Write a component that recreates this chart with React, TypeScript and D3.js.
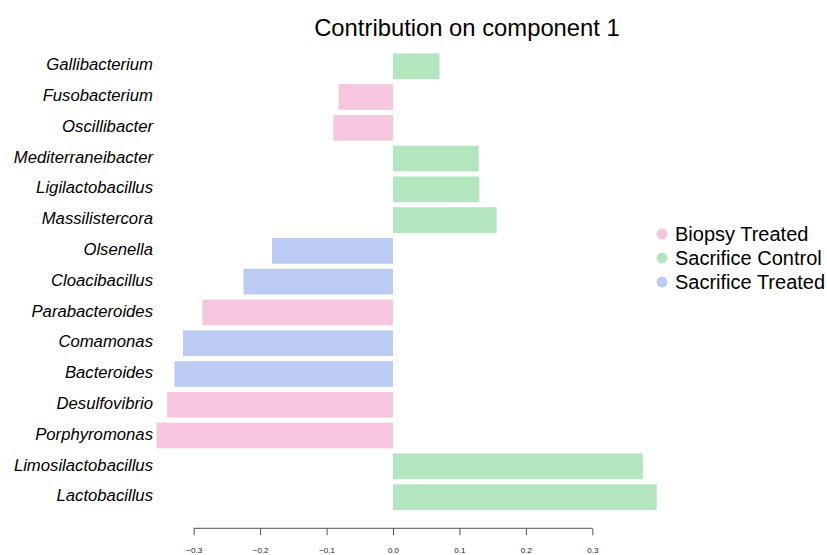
import React, { useRef, useEffect } from 'react';
import * as d3 from 'd3';

const genera = [
  'Gallibacterium', 'Fusobacterium', 'Oscillibacter', 'Mediterraneibacter',
  'Ligilactobacillus', 'Massilistercora', 'Olsenella', 'Cloacibacillus',
  'Parabacteroides', 'Comamonas', 'Bacteroides', 'Desulfovibrio',
  'Porphyromonas', 'Limosilactobacillus', 'Lactobacillus',
];
const contributions = [
  0.070, -0.082, -0.090, 0.129, 0.130, 0.156, -0.182, -0.225,
  -0.287, -0.316, -0.329, -0.340, -0.356, 0.376, 0.397,
];
const groups = [
  'Sacrifice Control', 'Biopsy Treated', 'Biopsy Treated', 'Sacrifice Control',
  'Sacrifice Control', 'Sacrifice Control', 'Sacrifice Treated', 'Sacrifice Treated',
  'Biopsy Treated', 'Sacrifice Treated', 'Sacrifice Treated', 'Biopsy Treated',
  'Biopsy Treated', 'Sacrifice Control', 'Sacrifice Control',
];
const legendGroups = ['Biopsy Treated', 'Sacrifice Control', 'Sacrifice Treated'];
const groupColors = ['#F6C6DF', '#B3E5BF', '#BBCBF4'];
const xTicks = [-0.3, -0.2, -0.1, 0.0, 0.1, 0.2, 0.3];

const W = 827;
const H = 555;

const App: React.FC = () => {
  const svgRef = useRef<SVGSVGElement>(null);

  useEffect(() => {
    if (!svgRef.current) return;
    const svg = d3.select(svgRef.current);
    svg.selectAll('*').remove();

    const font = 'Liberation Sans, Arial, sans-serif';
    const x = d3.scaleLinear().domain([-0.3, 0.3]).range([193.7, 592.3]);
    const y = d3.scaleBand<string>()
      .domain(genera)
      .range([50.8, 512.5])
      .paddingInner(0.166)
      .paddingOuter(0.083);
    const color = d3.scaleOrdinal<string, string>().domain(legendGroups).range(groupColors);

    // title
    svg.append('text')
      .attr('x', 467)
      .attr('y', 36)
      .attr('text-anchor', 'middle')
      .style('font-family', font)
      .style('font-size', '23.8px')
      .text('Contribution on component 1');

    // bars
    const rows = genera.map((g, i) => ({ name: g, value: contributions[i], group: groups[i] }));
    svg.append('g').selectAll('rect')
      .data(rows)
      .enter().append('rect')
      .attr('x', d => x(Math.min(0, d.value)))
      .attr('y', d => y(d.name) as number)
      .attr('width', d => Math.abs(x(d.value) - x(0)))
      .attr('height', y.bandwidth())
      .attr('fill', d => color(d.group));

    // labels
    svg.append('g').selectAll('text')
      .data(rows)
      .enter().append('text')
      .attr('x', 153)
      .attr('y', d => (y(d.name) as number) + y.bandwidth() / 2)
      .attr('dy', '0.25em')
      .attr('text-anchor', 'end')
      .style('font-family', font)
      .style('font-style', 'italic')
      .style('font-size', '16.7px')
      .text(d => d.name);

    // x axis
    const axis = svg.append('g')
      .attr('transform', 'translate(0,528.3)')
      .call(d3.axisBottom(x).tickValues(xTicks).tickSizeOuter(0).tickSize(7).tickFormat(d3.format('.1f')));
    axis.select('.domain').attr('stroke', '#555').attr('d', `M${x(-0.3)},0H${x(0.3)}`);
    axis.selectAll('.tick line').attr('stroke', '#555');
    axis.selectAll('.tick text')
      .attr('y', 19)
      .style('font-family', font)
      .style('font-size', '8px')
      .attr('fill', '#222');

    // legend
    const leg = svg.append('g');
    legendGroups.forEach((g, i) => {
      const cy = 234 + i * 24;
      leg.append('circle')
        .attr('cx', 662)
        .attr('cy', cy)
        .attr('r', 5.5)
        .attr('fill', color(g));
      leg.append('text')
        .attr('x', 675)
        .attr('y', cy)
        .attr('dy', '0.35em')
        .style('font-family', font)
        .style('font-size', '20px')
        .text(g);
    });
  }, []);

  return <svg ref={svgRef} width={W} height={H} style={{ display: 'block', position: 'absolute', left: 0, top: 0 }} />;
};

export default App;
